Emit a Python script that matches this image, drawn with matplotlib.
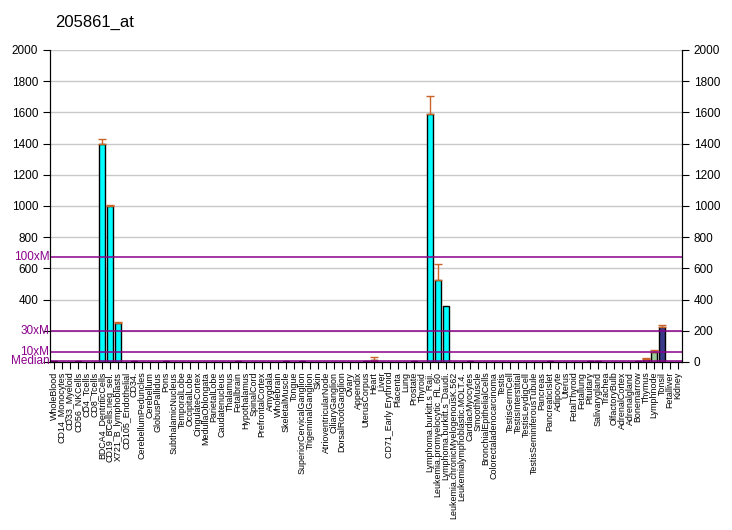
import matplotlib
matplotlib.use("Agg")
import matplotlib.pyplot as plt
import numpy as np

plt.rcParams['font.family'] = ['Liberation Sans', 'DejaVu Sans']

# tissue names, left to right
tissues = ["WholeBlood", "CD14_Monocytes", "CD33_Myeloid", "CD56_NKCells", "CD4_Tcells",
           "CD8_Tcells", "BDCA4_DentriticCells", "CD19_BCells.neg_sel.", "X721_B_lymphoblasts",
           "CD105_Endothelial", "CD34.", "CerebellumPeduncles", "Cerebellum", "GlobusPallidus",
           "Pons", "SubthalamicNucleus", "TemporalLobe", "OccipitalLobe", "CingulateCortex",
           "MedullaOblongata", "ParietalLobe", "Caudatenucleus", "Thalamus", "Fetalbrain",
           "Hypothalamus", "SpinalCord", "PrefrontalCortex", "Amygdala", "Wholebrain",
           "SkeletalMuscle", "Tongue", "SuperiorCervicalGanglion", "TrigeminalGanglion", "Skin",
           "AtrioventricularNode", "CiliaryGanglion", "DorsalRootGanglion", "Ovary", "Appendix",
           "UterusCorpus", "Heart", "Liver", "CD71_Early Erythroid", "Placenta", "Lung",
           "Prostate", "Thyroid", "Lymphoma.burkitt.s_Raji.", "Leukemia.promyelocytic_HL.60",
           "Lymphoma.burkitt.s_Daudi.", "Leukemia.chronicMyelogenousK.562",
           "Leukemialymphoblastic.MOLT.4.", "CardiacMyocytes", "SmoothMuscle",
           "BronchialEpithelialCells", "Colorectaladenocarcinoma", "Testis", "TestisGermCell",
           "TestisInterstitial", "TestisLeydigCell", "TestisSeminiferousTubule", "Pancreas",
           "PancreaticIslet", "Adipocyte", "Uterus", "FetalThyroid", "Fetallung", "Pituitary",
           "Salivarygland", "Trachea", "OlfactoryBulb", "AdrenalCortex", "Adrenalgland",
           "Bonemarrow", "Thymus", "Lymphnode", "Tonsil", "Fetalliver", "Kidney"]

# expression values (most are tiny / zero)
values = np.zeros(len(tissues))
errors = np.zeros(len(tissues))
colors = ["#00ffff"] * len(tissues)

big = {"BDCA4_DentriticCells": (1395, 35), "CD19_BCells.neg_sel.": (1000, 5),
       "X721_B_lymphoblasts": (250, 5), "Lymphoma.burkitt.s_Raji.": (1588, 115),
       "Leukemia.promyelocytic_HL.60": (526, 102), "Lymphoma.burkitt.s_Daudi.": (357, 0),
       "Heart": (14, 18), "Thymus": (20, 8), "Lymphnode": (66, 11), "Tonsil": (226, 8)}
dark = ["WholeBlood", "Pons", "SkeletalMuscle", "UterusCorpus", "Prostate",
        "PancreaticIslet", "Pituitary", "Bonemarrow"]
pink = ["CD56_NKCells", "Fetalbrain", "SuperiorCervicalGanglion", "CardiacMyocytes",
        "Salivarygland"]

for name in dark:
    values[tissues.index(name)] = 9
    colors[tissues.index(name)] = "#400040"
for name in pink:
    values[tissues.index(name)] = 7
    colors[tissues.index(name)] = "#b04870"
values[tissues.index("CD34.")] = 7
for name, (v, e) in big.items():
    values[tissues.index(name)] = v
    errors[tissues.index(name)] = e
colors[tissues.index("Heart")] = "#b04870"
colors[tissues.index("Thymus")] = "#8a6a8a"
colors[tissues.index("Lymphnode")] = "#99cc99"
colors[tissues.index("Tonsil")] = "#3a3a8a"

median = 6.7
mult_lines = [("Median", median), ("10xM", 10 * median), ("30xM", 30 * median),
              ("100xM", 100 * median)]

fig = plt.figure(figsize=(7.32, 5.30), dpi=100)
ax = fig.add_axes([50 / 732, 168 / 530, 632 / 732, 312 / 530])

x = np.arange(len(tissues))
ax.set_xlim(-0.5, len(tissues) - 0.5)
ax.set_ylim(0, 2000)

for yv in range(200, 2001, 200):
    ax.axhline(yv, color="#c8c8c8", lw=1, zorder=0)

ax.bar(x, values, width=0.78, color=colors, edgecolor="black", linewidth=1, zorder=2)
has_err = errors > 0
ax.errorbar(x[has_err], values[has_err], yerr=[np.zeros(has_err.sum()), errors[has_err]],
            fmt="none", ecolor="#c86428", elinewidth=1, capsize=3, capthick=1, zorder=3)

for label, yv in mult_lines:
    ax.axhline(yv, color="#8b008b", lw=1.1, zorder=4)

ax.spines["top"].set_visible(False)
ax.set_yticks(range(0, 2001, 200))
ax.set_yticklabels(["", ""] + [str(v) for v in range(400, 2001, 200)], fontsize=8.5)
ax.tick_params(axis="y", direction="out", length=5)
for label, yv in mult_lines:
    ax.text(-0.6, yv, label, color="#8b008b", fontsize=8.5, ha="right", va="center",
            clip_on=False)

ax.set_xticks(x)
ax.set_xticklabels(tissues, rotation=90, fontsize=6.4)
ax.tick_params(axis="x", direction="out", length=5, pad=2)

ax2 = ax.twinx()
ax2.set_ylim(0, 2000)
ax2.set_yticks(range(0, 2001, 200))
ax2.set_yticklabels([str(v) for v in range(0, 2001, 200)], fontsize=8.5)
ax2.tick_params(axis="y", direction="out", length=5)
ax2.spines["top"].set_visible(False)

fig.text(55 / 732, 1 - 22 / 530, "205861_at", fontsize=12, ha="left", va="center")

fig.savefig("out.png", dpi=100)
